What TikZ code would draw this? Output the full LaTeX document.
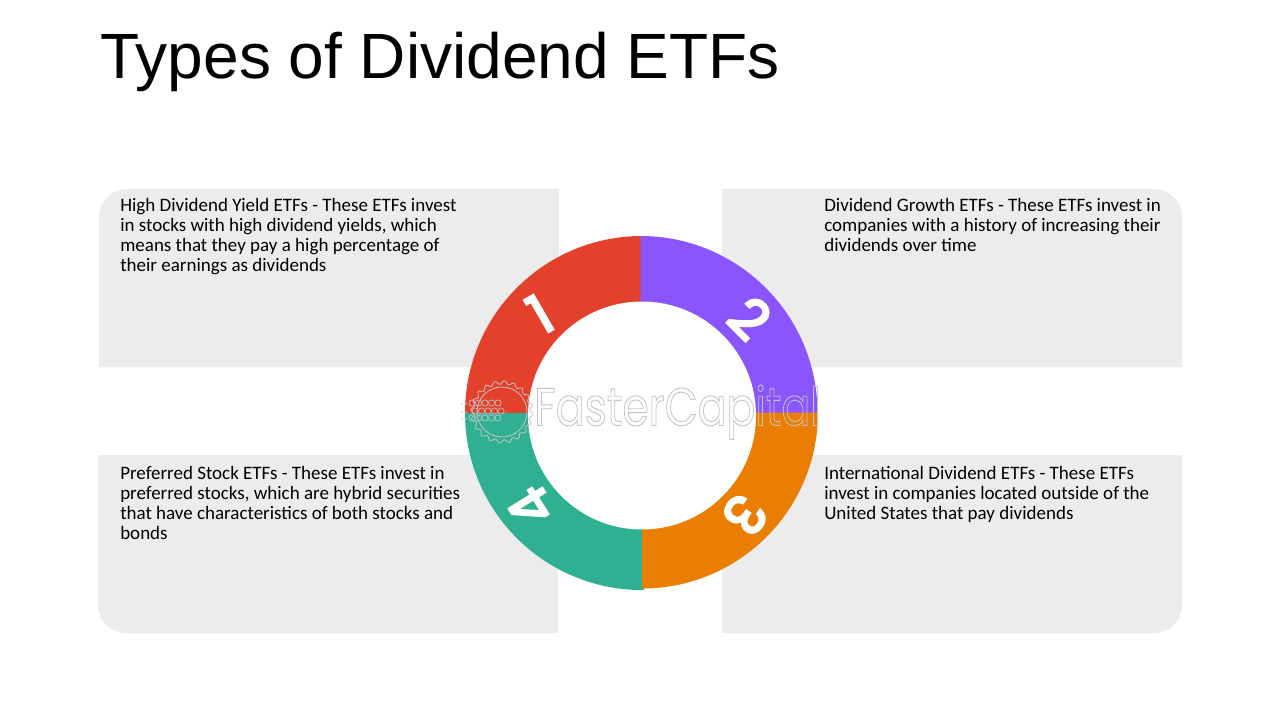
\documentclass[tikz,border=0pt]{standalone}
\usepackage{fontspec}
\setmainfont{Carlito}
\newfontfamily\titlefont{Liberation Sans}
\newfontfamily\digitfont{Poppins}
\newfontfamily\markfont{Poppins}
\definecolor{panel}{HTML}{ECECEC}
\definecolor{ringred}{HTML}{E4412D}
\definecolor{ringpurple}{HTML}{8A55FD}
\definecolor{ringorange}{HTML}{E97E03}
\definecolor{ringgreen}{HTML}{2FB092}
\definecolor{markgray}{HTML}{C4C4C4}
\newcommand{\heavydigit}[1]{\special{pdf:code q 2 Tr 1.9 w 1 1 1 RG}#1\special{pdf:code Q}}
\tikzset{
  x=0.75pt,y=-0.75pt,
  body/.style={anchor=north west,inner sep=0pt,align=left,font=\fontsize{14.25}{15}\selectfont,text=black},
  digit/.style={text=white,inner sep=0pt,font=\digitfont\fontsize{41}{41}\selectfont},
  panelfill/.style={fill=panel,draw=none}
}
\begin{document}
\begin{tikzpicture}
\useasboundingbox (0,0) rectangle (1280,720);
\fill[white] (0,0) rectangle (1280,720);
\node[anchor=west,inner sep=0pt,font=\titlefont\fontsize{48}{48}\selectfont] (title) at (100,62) {Types of Dividend ETFs};
% panels
\fill[panelfill] (559,189) -- (127,189) arc[start angle=270,end angle=180,radius=28] -- (99,367) -- (559,367) -- cycle;
\fill[panelfill] (722,189) -- (1154,189) arc[start angle=-90,end angle=0,radius=28] -- (1182,367) -- (722,367) -- cycle;
\fill[panelfill] (558,455) -- (98,455) -- (98,605) arc[start angle=180,end angle=90,radius=28] -- (558,633) -- cycle;
\fill[panelfill] (722,455) -- (1182,455) -- (1182,605) arc[start angle=0,end angle=90,radius=28] -- (722,633) -- cycle;
% ring: each later sector overlaps the seam of the earlier one
\fill[ringred] (642,416) -- (465,416) -- (465,413) arc[start angle=180,end angle=270,radius=177] -- (642,236) -- cycle;
\fill[ringgreen] (644,413) -- (465,413) arc[start angle=180,end angle=90,radius=177] -- (644,590) -- cycle;
\fill[ringpurple] (640.5,416) -- (640.5,236) arc[start angle=-90,end angle=0,radius=177] -- (817.5,416) -- cycle;
\fill[ringorange] (642,412.5) -- (818,412.5) arc[start angle=0,end angle=90,radius=176] -- cycle;
\fill[white] (642,415.5) circle[radius=114];
% digits
\node[digit,rotate=30] (d1) at (540,314) {\heavydigit{1}};
\node[digit,rotate=-45] (d2) at (750,318) {\heavydigit{2}};
\node[digit,rotate=-125] (d3) at (745,515) {\heavydigit{3}};
\node[digit,rotate=122] (d4) at (531,507) {\heavydigit{4}};
% watermark
\node[anchor=base west,inner sep=0pt,text=markgray,xscale=0.80,font=\markfont\fontsize{40}{40}\selectfont] (mark) at (534,425.5)
  {\special{pdf:code q 1 Tr 0.7 w 0.77 0.77 0.77 RG}FasterCapital\special{pdf:code Q}};
\draw[markgray,line width=0.6pt,smooth cycle,domain=0:354,samples=120]
  plot ({502+(29.5+1.8*sin(20*\x))*cos(\x)},{412+(29.5+1.8*sin(20*\x))*sin(\x)});
\draw[markgray,line width=0.6pt] (502,412) circle[radius=25];
\foreach \px/\py in {472/403,478.5/403,485/403,491.5/403,498/403,475/411,481.5/411,488/411,494.5/411,501/411,472/418,478.5/418,485/418,491.5/418,498/418}
  \draw[markgray,line width=0.5pt] (\px,\py) circle[radius=3.1];
\foreach \px/\py in {462/404,466/404,462/412,466/412,462/419,466/419}
  \fill[markgray] (\px,\py) circle[radius=0.9];
% texts
\node[body] (t1) at (120,198) {High Dividend Yield ETFs - These ETFs invest\\in stocks with high dividend yields, which\\means that they pay a high percentage of\\their earnings as dividends};
\node[body] (t2) at (824,198) {Dividend Growth ETFs - These ETFs invest in\\companies with a history of increasing their\\dividends over time};
\node[body] (t3) at (120,466) {Preferred Stock ETFs - These ETFs invest in\\preferred stocks, which are hybrid securities\\that have characteristics of both stocks and\\bonds};
\node[body] (t4) at (824,466) {International Dividend ETFs - These ETFs\\invest in companies located outside of the\\United States that pay dividends};
\end{tikzpicture}
\end{document}
